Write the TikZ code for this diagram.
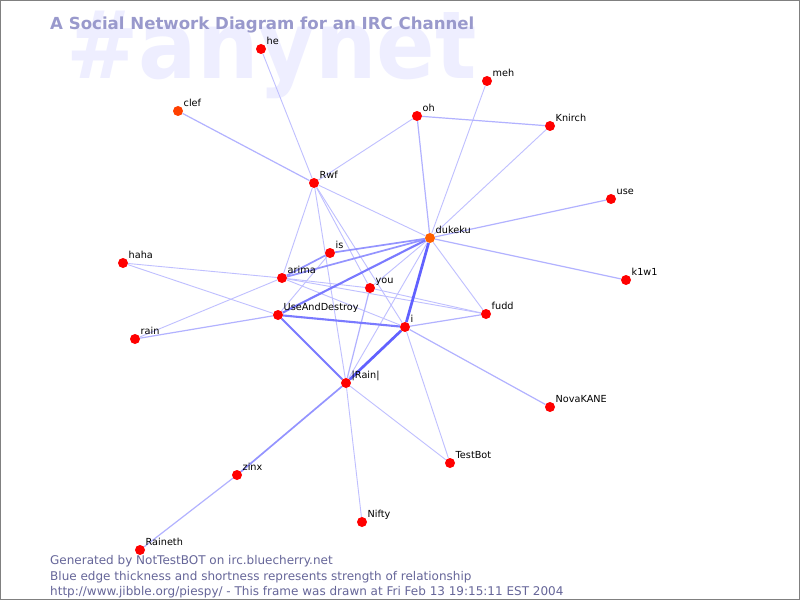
\documentclass[tikz,border=0pt]{standalone}
\usepackage{fontspec}
\setmainfont{DejaVu Sans}
\definecolor{nodered}{RGB}{255,0,0}
\definecolor{clefcol}{RGB}{255,64,0}
\definecolor{dukecol}{RGB}{255,96,0}
\definecolor{titlecol}{RGB}{153,153,204}
\definecolor{footcol}{RGB}{102,102,153}
\definecolor{wmcol}{RGB}{238,238,255}
\definecolor{framecol}{RGB}{128,128,128}
\pgfdeclarelayer{bg}
\pgfsetlayers{bg,main}
\tikzset{
  person/.style={circle, fill=nodered, minimum size=10bp, inner sep=0pt},
  lbl/.style={font=\fontsize{9.7bp}{11bp}\selectfont, anchor=base west, inner sep=0pt, text=black},
  wmark/.style={font=\fontsize{94bp}{94bp}\selectfont\bfseries, anchor=base west, inner sep=0pt, text=wmcol},
  titletext/.style={font=\fontsize{16.6bp}{20bp}\selectfont\bfseries, anchor=base west, inner sep=0pt, text=titlecol},
  foottext/.style={font=\fontsize{12bp}{13bp}\selectfont, anchor=base west, inner sep=0pt, text=footcol},
  w1/.style={draw=blue!25, line width=0.9bp},
  w2/.style={draw=blue!30, line width=1.2bp},
  w3/.style={draw=blue!42, line width=1.7bp},
  w4/.style={draw=blue!52, line width=2.1bp},
  w5/.style={draw=blue!62, line width=2.7bp},
}
\begin{document}
\begin{tikzpicture}[x=1bp,y=-1bp]
\useasboundingbox (0,0) rectangle (800,600);
\begin{pgfonlayer}{bg}
\fill[white] (0,0) rectangle (800,600);
\node[wmark] (wm) at (66,79) {\scalebox{0.92}[1]{\#anynet}};
\end{pgfonlayer}
\node[titletext] (title) at (50,30) {A Social Network Diagram for an IRC Channel};
\foreach \n/\x/\y/\t/\c in {
  he/261/49/he/nodered,
  clef/178/111/clef/clefcol,
  meh/487/81/meh/nodered,
  oh/417/116/oh/nodered,
  Knirch/550/126/Knirch/nodered,
  Rwf/314/183/Rwf/nodered,
  use/611/199/use/nodered,
  dukeku/430/238/dukeku/dukecol,
  is/330/253/is/nodered,
  haha/123/263/haha/nodered,
  arima/282/278/arima/nodered,
  k1w1/626/280/k1w1/nodered,
  you/370/288/you/nodered,
  UAD/278/315/UseAndDestroy/nodered,
  fudd/486/314/fudd/nodered,
  i/405/327/i/nodered,
  rain/135/339/rain/nodered,
  rainbar/346/383/|Rain|/nodered,
  Nova/550/407/NovaKANE/nodered,
  TestBot/450/463/TestBot/nodered,
  zinx/237/475/zinx/nodered,
  Nifty/362/522/Nifty/nodered,
  Raineth/140/550/Raineth/nodered}{
  \node[person, fill=\c] (\n) at (\x,\y) {};
  \node[lbl] (\n-lbl) at ([shift={(5.5,-4.5)}]\n.center) {\t};
}
\begin{pgfonlayer}{bg}
% thin edges
\foreach \a/\b in {he/Rwf, oh/Rwf, meh/dukeku, Knirch/dukeku, dukeku/fudd,
  dukeku/rainbar, Rwf/dukeku, dukeku/you, Rwf/arima, Rwf/rainbar, Rwf/you, Rwf/i,
  haha/arima, haha/UAD, rain/arima, arima/fudd, arima/i, arima/you, you/fudd,
  i/TestBot, rainbar/TestBot, rainbar/Nifty, is/UAD}
  \draw[w1] (\a) -- (\b);
\foreach \a/\b in {oh/Knirch, oh/dukeku, use/dukeku, k1w1/dukeku, i/fudd, i/Nova,
  rain/UAD, rainbar/you, zinx/Raineth, clef/Rwf}
  \draw[w2] (\a) -- (\b);
\foreach \a/\b in {arima/is, arima/dukeku, is/dukeku, rainbar/zinx}
  \draw[w3] (\a) -- (\b);
\foreach \a/\b in {UAD/dukeku, UAD/i, UAD/rainbar}
  \draw[w4] (\a) -- (\b);
\foreach \a/\b in {dukeku/i, i/rainbar}
  \draw[w5] (\a) -- (\b);
\end{pgfonlayer}
\node[foottext] (f1) at (50,564) {Generated by NotTestBOT on irc.bluecherry.net};
\node[foottext] (f2) at (50,580) {Blue edge thickness and shortness represents strength of relationship};
\node[foottext] (f3) at (50,595) {http://www.jibble.org/piespy/ - This frame was drawn at Fri Feb 13 19:15:11 EST 2004};
\draw[framecol, line width=1bp] (0.5,0.5) rectangle (799.5,599.5);
\end{tikzpicture}
\end{document}
